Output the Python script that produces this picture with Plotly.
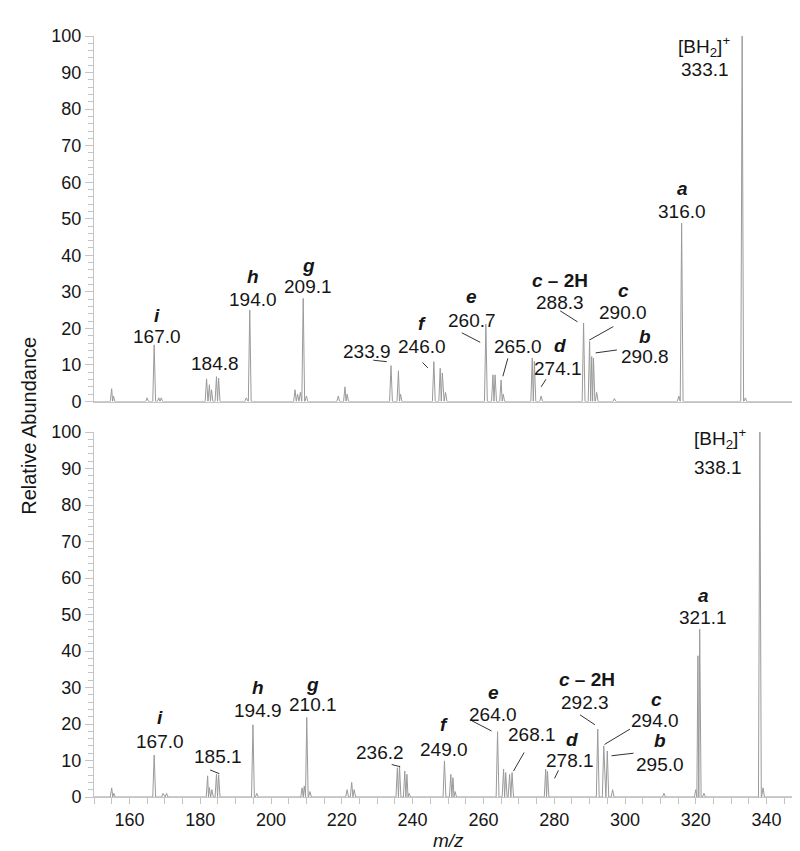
import plotly.graph_objects as go

# ---------------- data ----------------
# upper spectrum (precursor [BH2]+ 333.1)
top_mz = [155.0, 155.5, 165.0, 167.0, 168.3, 169.0, 181.8, 182.6, 183.2, 184.6, 185.2,
          193.0, 194.0, 206.8, 207.5, 208.3, 209.1, 210.0, 219.0, 220.9, 221.5,
          233.9, 236.0, 236.6, 246.0, 247.8, 248.4, 249.3, 260.7, 262.7, 263.3,
          265.0, 265.6, 273.8, 274.4, 276.3, 288.3, 290.0, 290.6, 291.1, 292.0,
          297.0, 315.2, 316.0, 333.1, 334.0]
top_int = [3.5, 1.5, 1.0, 15.5, 1.0, 1.0, 6.2, 4.6, 3.2, 6.8, 6.4,
           1.0, 25.0, 3.2, 2.0, 2.5, 28.2, 1.5, 1.5, 4.0, 2.0,
           9.8, 8.4, 2.0, 10.9, 9.1, 7.8, 2.5, 21.2, 7.3, 7.3,
           5.9, 2.0, 11.9, 11.0, 1.5, 21.5, 16.4, 12.3, 11.9, 2.5,
           0.8, 1.5, 48.8, 100.0, 1.0]

# lower spectrum (precursor [BH2]+ 338.1)
bot_mz = [155.0, 155.6, 167.0, 169.5, 170.5, 182.1, 182.6, 183.3, 184.6, 185.2,
          194.9, 196.0, 208.8, 209.4, 210.1, 211.0, 221.5, 222.8, 223.5,
          235.7, 236.3, 237.8, 238.4, 239.0, 249.0, 250.8, 251.4, 252.0,
          264.0, 265.7, 266.3, 267.4, 268.1, 277.6, 278.1, 292.3, 294.0, 295.0,
          296.5, 311.0, 320.0, 320.6, 321.1, 322.3, 338.1, 339.0]
bot_int = [2.5, 1.0, 11.5, 1.0, 1.0, 5.8, 2.6, 2.0, 6.3, 6.1,
           19.8, 1.0, 2.5, 3.0, 21.8, 1.5, 2.0, 4.0, 2.0,
           8.0, 8.5, 7.1, 6.2, 1.0, 9.9, 6.2, 5.3, 1.5,
           17.9, 7.6, 6.7, 6.2, 6.7, 7.6, 7.1, 18.6, 14.0, 12.6,
           2.0, 1.0, 2.0, 38.7, 46.0, 1.0, 100.0, 2.5]

y_ticks = [0, 10, 20, 30, 40, 50, 60, 70, 80, 90, 100]
x_ticks = [160, 180, 200, 220, 240, 260, 280, 300, 320, 340]

# peak labels: (text, m/z position, abundance position)
top_labels = [
    ("<b><i>i</i></b>", 167.7, 23.6), ("167.0", 167.9, 17.9),
    ("184.8", 184.2, 10.4),
    ("<b><i>h</i></b>", 195.0, 34.2), ("194.0", 195.0, 27.8),
    ("<b><i>g</i></b>", 210.6, 37.3), ("209.1", 210.4, 31.4),
    ("233.9", 227.1, 13.6),
    ("<b><i>f</i></b>", 242.6, 21.4), ("246.0", 242.6, 15.0),
    ("<b><i>e</i></b>", 256.7, 28.7), ("260.7", 256.7, 22.3),
    ("265.0", 269.7, 15.0),
    ("<b><i>d</i></b>", 281.5, 15.4), ("274.1", 281.2, 9.0),
    ("<b><i>c</i> – 2H</b>", 281.5, 33.2), ("288.3", 281.5, 27.0),
    ("<b><i>c</i></b>", 299.5, 30.4), ("290.0", 299.5, 24.4),
    ("<b><i>b</i></b>", 305.7, 17.7), ("290.8", 305.7, 12.2),
    ("<b><i>a</i></b>", 316.2, 58.4), ("316.0", 316.2, 52.0),
    ("[BH<sub>2</sub>]<sup>+</sup>", 322.2, 97.2), ("333.1", 322.6, 90.8),
]
top_leaders = [(228.9, 11.3, 232.7, 10.9), (242.8, 10.7, 244.3, 9.2),
               (253.9, 18.8, 259.1, 16.2), (266.9, 11.8, 265.5, 6.9),
               (277.7, 6.1, 276.3, 4.0), (281.7, 24.8, 286.6, 21.8),
               (296.7, 20.5, 289.9, 16.8), (297.7, 14.1, 291.7, 13.3)]

bot_labels = [
    ("<b><i>i</i></b>", 168.7, 21.8), ("167.0", 168.7, 15.2),
    ("185.1", 185.1, 11.0),
    ("<b><i>h</i></b>", 196.4, 30.0), ("194.9", 196.4, 23.8),
    ("<b><i>g</i></b>", 211.8, 30.9), ("210.1", 211.8, 25.3),
    ("236.2", 230.8, 12.2),
    ("<b><i>f</i></b>", 249.0, 19.9), ("249.0", 249.0, 13.1),
    ("<b><i>e</i></b>", 262.8, 28.6), ("264.0", 262.8, 22.7),
    ("268.1", 273.6, 17.2),
    ("<b><i>d</i></b>", 284.9, 15.8), ("278.1", 284.5, 9.9),
    ("<b><i>c</i> – 2H</b>", 289.2, 32.3), ("292.3", 288.7, 25.9),
    ("<b><i>c</i></b>", 309.0, 26.8), ("294.0", 308.5, 20.9),
    ("<b><i>b</i></b>", 309.9, 15.4), ("295.0", 309.9, 8.9),
    ("<b><i>a</i></b>", 322.1, 55.2), ("321.1", 322.1, 49.2),
    ("[BH<sub>2</sub>]<sup>+</sup>", 326.9, 98.2), ("338.1", 326.4, 90.4),
]
bot_leaders = [(182.8, 7.4, 185.4, 6.4), (234.1, 8.9, 236.5, 8.3),
               (256.7, 20.9, 262.3, 18.1), (271.5, 12.2, 268.5, 7.1),
               (281.2, 7.3, 280.1, 5.1), (287.3, 22.5, 291.5, 19.8),
               (301.4, 18.6, 294.2, 14.4), (302.4, 12.0, 296.2, 11.3)]

# ---------------- build profile lines from peak lists ----------------
HALF = 0.4


def profile(mz, inten, lo=150.0, hi=350.0):
    xs, ys = [lo], [0.0]
    n = len(mz)
    for i in range(n):
        m, h = mz[i], inten[i]
        left = m - HALF
        if i > 0:
            left = max(left, (mz[i - 1] + m) / 2)
        right = m + HALF
        if i < n - 1:
            right = min(right, (m + mz[i + 1]) / 2)
        if xs[-1] < left:
            xs.append(left)
            ys.append(0.0)
        xs.append(m)
        ys.append(h)
        xs.append(right)
        ys.append(0.0)
    xs.append(hi)
    ys.append(0.0)
    return xs, ys


FONT = "Liberation Sans, Arial, sans-serif"
LINE = "#9a9a9a"
AXIS = "#c4c4c4"
TXT = "#161616"
LBL = 19

fig = go.Figure()
tx, ty = profile(top_mz, top_int)
bx, by = profile(bot_mz, bot_int)
fig.add_trace(go.Scatter(x=tx, y=ty, mode="lines", line=dict(color=LINE, width=1),
                         xaxis="x", yaxis="y", showlegend=False, hoverinfo="skip"))
fig.add_trace(go.Scatter(x=bx, y=by, mode="lines", line=dict(color=LINE, width=1),
                         xaxis="x2", yaxis="y2", showlegend=False, hoverinfo="skip"))

yax = dict(range=[0, 100], tickmode="array", tickvals=y_ticks, ticks="outside",
           ticklen=8, tickwidth=1, tickcolor=AXIS, showline=True, linecolor=AXIS,
           linewidth=1, showgrid=False, zeroline=False,
           minor=dict(dtick=2, ticks="outside", ticklen=5, tickcolor=AXIS, showgrid=False),
           tickfont=dict(family=FONT, size=18, color=TXT), fixedrange=True)

fig.update_layout(
    width=800, height=851,
    margin=dict(l=86, r=6, t=28, b=62),
    paper_bgcolor="white", plot_bgcolor="white",
    font=dict(family=FONT, size=18, color=TXT),
    xaxis=dict(domain=[0, 1], anchor="y", range=[150, 350], showline=True,
               linecolor=AXIS, linewidth=1, ticks="", showticklabels=False,
               showgrid=False, zeroline=False),
    yaxis=dict(domain=[0.5197, 1.0], anchor="x", **yax),
    xaxis2=dict(domain=[0, 1], anchor="y2", range=[150, 350], showline=True,
                linecolor=AXIS, linewidth=1, tickmode="array", tickvals=x_ticks,
                ticks="outside", ticklen=6, tickcolor=AXIS,
                minor=dict(dtick=5, ticks="outside", ticklen=6, tickcolor=AXIS, showgrid=False),
                tickfont=dict(family=FONT, size=18, color=TXT),
                showgrid=False, zeroline=False),
    yaxis2=dict(domain=[0.0, 0.4796], anchor="x2", **yax),
)

annotations = []
for text, xv, yv in top_labels:
    annotations.append(dict(text=text, x=xv, y=yv, xref="x", yref="y", showarrow=False,
                            xanchor="center", yanchor="middle",
                            font=dict(family=FONT, size=LBL, color=TXT)))
for text, xv, yv in bot_labels:
    annotations.append(dict(text=text, x=xv, y=yv, xref="x2", yref="y2", showarrow=False,
                            xanchor="center", yanchor="middle",
                            font=dict(family=FONT, size=LBL, color=TXT)))
annotations.append(dict(text="Relative Abundance", x=-0.093, y=0.488, xref="paper",
                        yref="paper", showarrow=False, textangle=-90,
                        xanchor="center", yanchor="middle",
                        font=dict(family=FONT, size=20, color=TXT)))
annotations.append(dict(text="<i>m/z</i>", x=0.5, y=-0.057, xref="paper", yref="paper",
                        showarrow=False, xanchor="center", yanchor="middle",
                        font=dict(family=FONT, size=19, color=TXT)))
fig.update_layout(annotations=annotations)

shapes = []
for x0, y0, x1, y1 in top_leaders:
    shapes.append(dict(type="line", xref="x", yref="y", x0=x0, y0=y0, x1=x1, y1=y1,
                       line=dict(color="#333333", width=1)))
for x0, y0, x1, y1 in bot_leaders:
    shapes.append(dict(type="line", xref="x2", yref="y2", x0=x0, y0=y0, x1=x1, y1=y1,
                       line=dict(color="#333333", width=1)))
fig.update_layout(shapes=shapes)

fig.write_html("out.html")
